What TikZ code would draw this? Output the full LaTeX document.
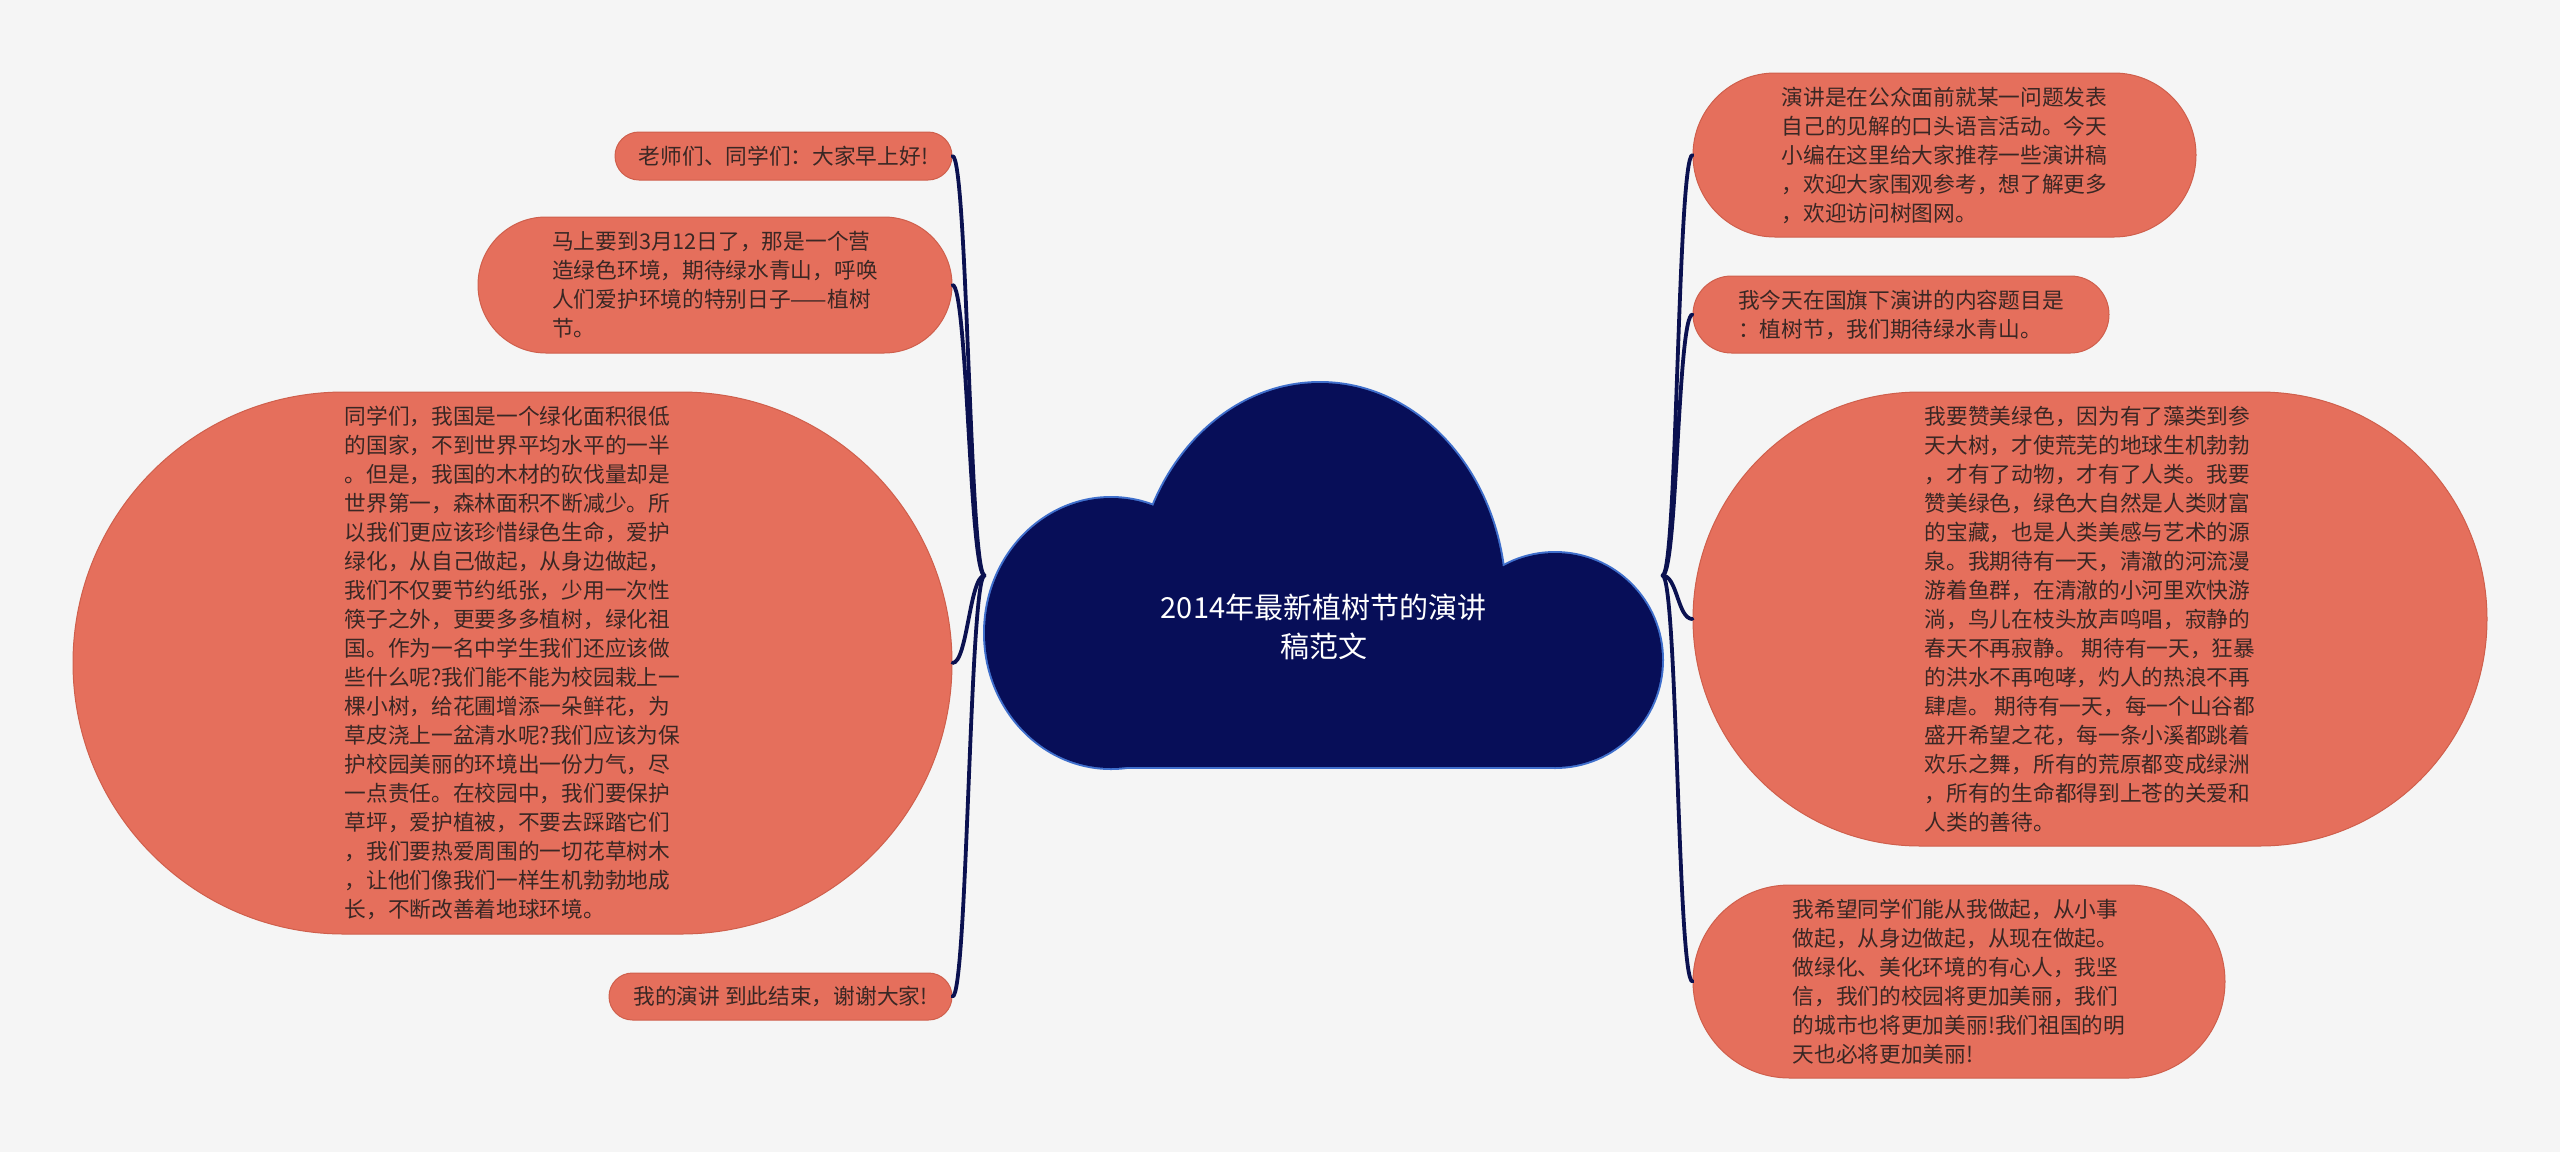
\documentclass[tikz,border=0pt]{standalone}
\usepackage{fontspec}
\setmainfont{Noto Sans CJK SC}
\definecolor{bg}{HTML}{F5F5F5}
\definecolor{salmon}{HTML}{E56F5C}
\definecolor{salmonedge}{HTML}{CF5F4C}
\definecolor{navy}{HTML}{070E58}
\definecolor{cloudedge}{HTML}{3F6FCC}
\definecolor{wire}{HTML}{0B1150}
\definecolor{ink}{HTML}{3A2724}
\begin{document}
\begin{tikzpicture}[x=0.5pt,y=-0.5pt,
  leaf/.style={draw=salmonedge, line width=0.5pt, fill=salmon, text=ink,
    align=left, inner sep=0pt, font=\fontsize{10.85pt}{14.5pt}\selectfont},
  wire/.style={draw=wire, line width=1.9pt, line cap=round},
  cloudshape/.style={fill=navy}]
\useasboundingbox (0,0) rectangle (2560,1152);
\fill[bg] (0,0) rectangle (2560,1152);

% cloud: outline pass
\begin{scope}
  \path[draw=cloudedge, line width=2pt, fill=navy]
    (1111,633) ellipse [x radius=126, y radius=135]
    (1555,660) ellipse [x radius=107, y radius=107];
  \path[draw=cloudedge, line width=2pt, fill=navy] (1111,600) rectangle (1555,767);
  \begin{scope}
    \clip (0,0) rectangle (2560,700);
    \path[draw=cloudedge, line width=2pt, fill=navy] (1320,600) ellipse [x radius=185, y radius=217];
  \end{scope}
\end{scope}
% cloud: fill pass
\begin{scope}
  \fill[cloudshape] (1111,633) ellipse [x radius=126, y radius=135];
  \fill[cloudshape] (1555,660) ellipse [x radius=107, y radius=107];
  \fill[cloudshape] (1111,600) rectangle (1555,767);
  \begin{scope}
    \clip (0,0) rectangle (2560,700);
    \fill[cloudshape] (1320,600) ellipse [x radius=185, y radius=217];
  \end{scope}
\end{scope}

\node[minimum width=338.5pt, minimum height=191.5pt, inner sep=0pt] (root) at (1323.5,575.5) {};
\node[text=white, align=center, inner sep=0pt, font=\fontsize{14.5pt}{19.5pt}\selectfont] (title) at (1323.5,627)
  {2014年最新植树节的演讲\\稿范文};

% left nodes
\node[leaf, minimum width=168.5pt, minimum height=24pt, rounded corners=12pt] (n1) at (783.5,156)
  {老师们、同学们：大家早上好!};
\node[leaf, minimum width=237pt, minimum height=68pt, rounded corners=34pt] (n2) at (715,285)
  {马上要到3月12日了，那是一个营\\造绿色环境，期待绿水青山，呼唤\\人们爱护环境的特别日子——植树\\节。};
\node[leaf, minimum width=439.5pt, minimum height=271pt, rounded corners=135.5pt] (n3) at (512.5,663)
  {同学们，我国是一个绿化面积很低\\的国家，不到世界平均水平的一半\\。但是，我国的木材的砍伐量却是\\世界第一，森林面积不断减少。所\\以我们更应该珍惜绿色生命，爱护\\绿化，从自己做起，从身边做起，\\我们不仅要节约纸张，少用一次性\\筷子之外，更要多多植树，绿化祖\\国。作为一名中学生我们还应该做\\些什么呢?我们能不能为校园栽上一\\棵小树，给花圃增添一朵鲜花，为\\草皮浇上一盆清水呢?我们应该为保\\护校园美丽的环境出一份力气，尽\\一点责任。在校园中，我们要保护\\草坪，爱护植被，不要去踩踏它们\\，我们要热爱周围的一切花草树木\\，让他们像我们一样生机勃勃地成\\长，不断改善着地球环境。};
\node[leaf, minimum width=171.5pt, minimum height=23.5pt, rounded corners=11.75pt] (n4) at (780.5,996.5)
  {我的演讲 到此结束，谢谢大家!};

% right nodes
\node[leaf, minimum width=251.5pt, minimum height=82pt, rounded corners=41pt] (n5) at (1944.5,155)
  {演讲是在公众面前就某一问题发表\\自己的见解的口头语言活动。今天\\小编在这里给大家推荐一些演讲稿\\，欢迎大家围观参考，想了解更多\\，欢迎访问树图网。};
\node[leaf, minimum width=208pt, minimum height=38.5pt, rounded corners=19.25pt] (n6) at (1901,314.5)
  {我今天在国旗下演讲的内容题目是\\：植树节，我们期待绿水青山。};
\node[leaf, minimum width=397pt, minimum height=227pt, rounded corners=113.5pt] (n7) at (2090,619)
  {我要赞美绿色，因为有了藻类到参\\天大树，才使荒芜的地球生机勃勃\\，才有了动物，才有了人类。我要\\赞美绿色，绿色大自然是人类财富\\的宝藏，也是人类美感与艺术的源\\泉。我期待有一天，清澈的河流漫\\游着鱼群，在清澈的小河里欢快游\\淌，鸟儿在枝头放声鸣唱，寂静的\\春天不再寂静。 期待有一天，狂暴\\的洪水不再咆哮，灼人的热浪不再\\肆虐。 期待有一天，每一个山谷都\\盛开希望之花，每一条小溪都跳着\\欢乐之舞，所有的荒原都变成绿洲\\，所有的生命都得到上苍的关爱和\\人类的善待。};
\node[leaf, minimum width=266pt, minimum height=96.5pt, rounded corners=48.25pt] (n8) at (1959,981.5)
  {我希望同学们能从我做起，从小事\\做起，从身边做起，从现在做起。\\做绿化、美化环境的有心人，我坚\\信，我们的校园将更加美丽，我们\\的城市也将更加美丽!我们祖国的明\\天也必将更加美丽!};

% connectors
\foreach \n in {n1,n2,n3,n4}
  \draw[wire] (root.west) .. controls +(-15,0) and +(15,0) .. (\n.east);
\foreach \n in {n5,n6,n7,n8}
  \draw[wire] (root.east) .. controls +(15,0) and +(-15,0) .. (\n.west);
\end{tikzpicture}
\end{document}
